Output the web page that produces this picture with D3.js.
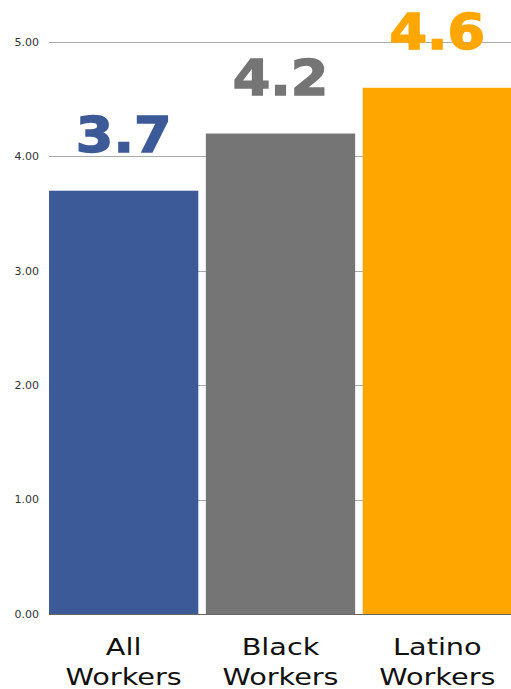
<!DOCTYPE html>
<html>
<head>
<meta charset="utf-8">
<script src="https://cdn.jsdelivr.net/npm/d3@7"></script>
<style>
  body { margin: 0; background: #fff; }
  svg { display: block; }
</style>
</head>
<body>
<div id="chart"></div>
<script>
const width = 511;
const height = 689;

const categories = [["All", "Workers"], ["Black", "Workers"], ["Latino", "Workers"]];
const values = [3.7, 4.2, 4.6];
const colors = ["#3d5a98", "#757575", "#ffa600"];
const tickValues = [0, 1, 2, 3, 4, 5];

const svg = d3.select("#chart")
    .append("svg")
    .attr("width", width)
    .attr("height", height);

const x = d3.scaleBand()
    .domain(d3.range(values.length))
    .range([49, 512])
    .paddingInner(0.048)
    .paddingOuter(0);

const y = d3.scaleLinear()
    .domain([0, 5])
    .range([614, 42]);

// gridlines
svg.append("g")
    .selectAll("line")
    .data(tickValues)
    .enter().append("line")
    .attr("x1", 49)
    .attr("x2", width)
    .attr("y1", d => Math.round(y(d)) + 0.5)
    .attr("y2", d => Math.round(y(d)) + 0.5)
    .attr("stroke", d => d === 0 ? "#666" : "#aaa")
    .attr("stroke-width", 1);

// y tick labels
svg.append("g")
    .selectAll("text")
    .data(tickValues)
    .enter().append("text")
    .attr("x", 39)
    .attr("y", d => y(d))
    .attr("dy", "0.35em")
    .attr("text-anchor", "end")
    .attr("font-family", "DejaVu Sans, sans-serif")
    .attr("font-size", 11)
    .attr("fill", "#333")
    .text(d3.format(".2f"));

// bars
svg.append("g")
    .selectAll("rect")
    .data(values)
    .enter().append("rect")
    .attr("x", (d, i) => x(i))
    .attr("y", d => y(d))
    .attr("width", x.bandwidth())
    .attr("height", d => y(0) - y(d))
    .attr("fill", (d, i) => colors[i]);

// value labels
svg.append("g")
    .selectAll("text")
    .data(values)
    .enter().append("text")
    .attr("transform", (d, i) => `translate(${x(i) + x.bandwidth() / 2},${y(d) - 39}) scale(1.08,1)`)
    .attr("text-anchor", "middle")
    .attr("font-family", "DejaVu Sans, sans-serif")
    .attr("font-weight", "bold")
    .attr("font-size", 50)
    .attr("fill", (d, i) => colors[i])
    .attr("stroke", (d, i) => colors[i])
    .attr("stroke-width", 1.5)
    .text(d => d.toFixed(1));

// category labels
const cat = svg.append("g")
    .selectAll("g")
    .data(categories)
    .enter().append("g")
    .attr("transform", (d, i) => `translate(${x(i) + x.bandwidth() / 2},0) scale(1.25,1)`);

cat.selectAll("text")
    .data(d => d)
    .enter().append("text")
    .attr("x", 0)
    .attr("y", (d, j) => 655 + j * 30)
    .attr("text-anchor", "middle")
    .attr("font-family", "DejaVu Sans, sans-serif")
    .attr("font-size", 23)
    .attr("fill", "#111")
    .text(d => d);
</script>
</body>
</html>
